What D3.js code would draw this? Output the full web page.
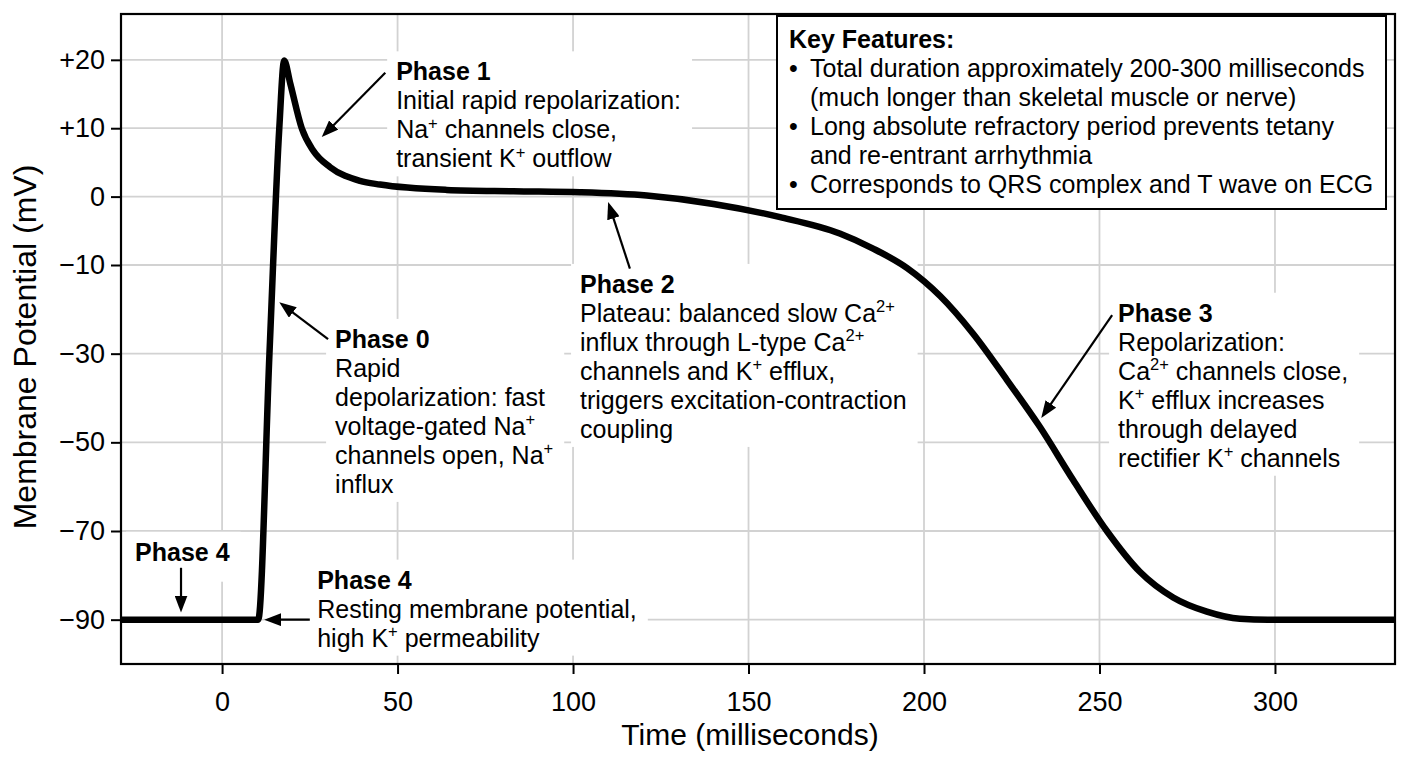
<!DOCTYPE html>
<html>
<head>
<meta charset="utf-8">
<script src="https://cdn.jsdelivr.net/npm/d3@7"></script>
<style>
  html, body { margin: 0; padding: 0; background: #fff; }
  svg { display: block; font-family: "Liberation Sans", Arial, Helvetica, sans-serif; }
</style>
</head>
<body>
<div id="chart"></div>
<script>
// Cardiac ventricular action potential
const timeMs = [-30, 10.3, 13.5, 16.3, 17.7, 19.4, 22.7, 26, 30.8, 39.3, 45, 64, 83, 102,
  121, 140, 159, 176, 185.5, 195.2, 204.6, 214, 223.6, 233, 242.5, 252.1, 261.5, 271,
  280.6, 290, 298, 340];
const voltageMv = [-90, -90, -30, 10, 19.9, 16.6, 10, 6.7, 4.3, 2.3, 1.76, 0.98, 0.78, 0.63,
  0.15, -1.07, -3.0, -5.4, -7.6, -10.7, -17.0, -25.5, -35.9, -46.5, -58.5, -70, -79.2, -85.0,
  -88.2, -89.8, -90, -90];

const xTicks = [0, 50, 100, 150, 200, 250, 300];
const yTicks = [20, 10, 0, -10, -30, -50, -70, -90];

const xTitle = "Time (milliseconds)";
const yTitle = "Membrane Potential (mV)";

const keyTitle = "Key Features:";
const keyBullets = [
  ["Total duration approximately 200-300 milliseconds", "(much longer than skeletal muscle or nerve)"],
  ["Long absolute refractory period prevents tetany", "and re-entrant arrhythmia"],
  ["Corresponds to QRS complex and T wave on ECG"]
];

// annotation text; ^{..} marks a superscript
const phase0Lines = ["Phase 0", "Rapid", "depolarization: fast", "voltage-gated Na^{+}", "channels open, Na^{+}", "influx"];
const phase1Lines = ["Phase 1", "Initial rapid repolarization:", "Na^{+} channels close,", "transient K^{+} outflow"];
const phase2Lines = ["Phase 2", "Plateau: balanced slow Ca^{2+}", "influx through L-type Ca^{2+}", "channels and K^{+} efflux,", "triggers excitation-contraction", "coupling"];
const phase3Lines = ["Phase 3", "Repolarization:", "Ca^{2+} channels close,", "K^{+} efflux increases", "through delayed", "rectifier K^{+} channels"];
const phase4aLines = ["Phase 4"];
const phase4bLines = ["Phase 4", "Resting membrane potential,", "high K^{+} permeability"];

// anchors in data units [ms, mV]: text start, arrow tail, arrow tip
const annotations = [
  { lines: phase0Lines, at: [32.2, -28.7], from: [30.2, -26.7], to: [16.3, -18.4] },
  { lines: phase1Lines, at: [49.6, 17.0], from: [46.5, 18.1], to: [28.4, 8.7] },
  { lines: phase2Lines, at: [102, -16.3], from: [116.2, -10.8], to: [110, -0.8] },
  { lines: phase3Lines, at: [255.3, -22.8], from: [253.6, -21.3], to: [233.4, -44.5] },
  { lines: phase4aLines, at: [-24.8, -76.7], from: [-11.7, -78.3], to: [-11.7, -88.4], padBottom: 12 },
  { lines: phase4bLines, at: [27.1, -83.0], from: [25.0, -90], to: [12.0, -90] }
];

const W = 1408, H = 768;
const plot = { left: 121, right: 1395, top: 14, bottom: 664 };
const fontAnn = 25, lineH = 29;

const svg = d3.select("#chart").append("svg")
  .attr("width", W).attr("height", H);

svg.append("rect").attr("width", W).attr("height", H).attr("fill", "#fff");

const x = d3.scaleLinear().domain([-28.8, 334.2]).range([plot.left, plot.right]);
// the picture uses a tighter mV scale below -10 than above it
const y = d3.scaleLinear().domain([-100, -10, 26.7]).range([plot.bottom, 265, plot.top]);

const defs = svg.append("defs");
defs.append("clipPath").attr("id", "plot-clip")
  .append("rect")
  .attr("x", plot.left).attr("y", plot.top)
  .attr("width", plot.right - plot.left).attr("height", plot.bottom - plot.top);

defs.append("marker")
  .attr("id", "arrowhead")
  .attr("viewBox", "0 -6.5 17 13")
  .attr("refX", 9).attr("refY", 0)
  .attr("markerWidth", 17).attr("markerHeight", 13)
  .attr("markerUnits", "userSpaceOnUse")
  .attr("orient", "auto")
  .append("path").attr("d", "M0,-6.5L17,0L0,6.5Z").attr("fill", "#000");

// grid
const grid = svg.append("g").attr("class", "grid")
  .attr("stroke", "#d2d2d2").attr("stroke-width", 1.8);
grid.selectAll("line.v").data(xTicks).join("line").attr("class", "v")
  .attr("x1", d => x(d)).attr("x2", d => x(d))
  .attr("y1", plot.top).attr("y2", plot.bottom);
grid.selectAll("line.h").data(yTicks).join("line").attr("class", "h")
  .attr("x1", plot.left).attr("x2", plot.right)
  .attr("y1", d => y(d)).attr("y2", d => y(d));

// axes
const fmtMv = v => v > 0 ? "+" + v : v < 0 ? "\u2212" + Math.abs(v) : "0";

const xAxis = svg.append("g")
  .attr("transform", `translate(0,${plot.bottom})`)
  .call(d3.axisBottom(x).tickValues(xTicks).tickSize(10).tickPadding(18).tickFormat(d3.format("d")));
const yAxis = svg.append("g")
  .attr("transform", `translate(${plot.left},0)`)
  .call(d3.axisLeft(y).tickValues(yTicks).tickSize(10).tickPadding(6).tickFormat(fmtMv));

for (const ax of [xAxis, yAxis]) {
  ax.select(".domain").remove();
  ax.selectAll(".tick line").attr("stroke", "#000").attr("stroke-width", 2);
  ax.selectAll(".tick text").attr("fill", "#000").attr("font-size", 27)
    .attr("font-family", "Liberation Sans, Arial, sans-serif");
}

svg.append("text")
  .attr("x", (plot.left + plot.right) / 2 - 8).attr("y", 745)
  .attr("text-anchor", "middle").attr("font-size", 30).attr("fill", "#000")
  .text(xTitle);

svg.append("text")
  .attr("transform", `translate(36,${(plot.top + plot.bottom) / 2 + 8}) rotate(-90)`)
  .attr("text-anchor", "middle").attr("font-size", 32).attr("fill", "#000")
  .text(yTitle);

// write a line with ^{..} superscripts
function richLine(sel, str, size) {
  const parts = str.split(/(\^\{[^}]*\})/);
  let raised = false;
  const shift = size * 0.38;
  for (const p of parts) {
    if (!p) continue;
    if (p.startsWith("^{")) {
      sel.append("tspan").attr("dy", -shift).attr("font-size", size * 0.66).text(p.slice(2, -1));
      raised = true;
    } else {
      sel.append("tspan").attr("dy", raised ? shift : 0).text(p);
      raised = false;
    }
  }
}

// annotation blocks with white backing that hides the grid
const annLayer = svg.append("g").attr("class", "annotations");
for (const a of annotations) {
  const g = annLayer.append("g");
  const bg = g.append("rect").attr("fill", "#fff");
  const tx = x(a.at[0]), ty = y(a.at[1]);
  a.lines.forEach((ln, i) => {
    const t = g.append("text")
      .attr("x", tx).attr("y", ty + i * lineH)
      .attr("font-size", fontAnn).attr("fill", "#000")
      .attr("font-weight", i === 0 ? "bold" : "normal");
    richLine(t, ln, fontAnn);
  });
  const bb = g.node().getBBox();
  bg.attr("x", bb.x - 9).attr("y", bb.y - 6)
    .attr("width", bb.width + 20)
    .attr("height", bb.height + 10 + (a.padBottom || 0));
}

// action potential trace
const line = d3.line()
  .x((d, i) => x(timeMs[i]))
  .y(d => y(d))
  .curve(d3.curveMonotoneX);

svg.append("path")
  .datum(voltageMv)
  .attr("clip-path", "url(#plot-clip)")
  .attr("fill", "none")
  .attr("stroke", "#000")
  .attr("stroke-width", 6.5)
  .attr("stroke-linejoin", "round")
  .attr("d", line);

// arrows
const arrowLayer = svg.append("g").attr("class", "arrows");
for (const a of annotations) {
  const x1 = x(a.from[0]), y1 = y(a.from[1]);
  const x2 = x(a.to[0]), y2 = y(a.to[1]);
  const len = Math.hypot(x2 - x1, y2 - y1);
  const k = (len - 8) / len;
  arrowLayer.append("line")
    .attr("x1", x1).attr("y1", y1)
    .attr("x2", x1 + (x2 - x1) * k).attr("y2", y1 + (y2 - y1) * k)
    .attr("stroke", "#000").attr("stroke-width", 2.2)
    .attr("marker-end", "url(#arrowhead)");
}

// key features box
const kb = { w: 609, h: 193 };
const kbX = plot.right - 9 - kb.w, kbY = plot.top + 2;
const key = svg.append("g").attr("transform", `translate(${kbX},${kbY})`);
key.append("rect")
  .attr("width", kb.w).attr("height", kb.h)
  .attr("fill", "#fff").attr("stroke", "#000").attr("stroke-width", 2);
key.append("text")
  .attr("x", 12).attr("y", 32)
  .attr("font-size", fontAnn).attr("font-weight", "bold").attr("fill", "#000")
  .text(keyTitle);
let row = 1;
for (const b of keyBullets) {
  b.forEach((ln, j) => {
    const yy = 32 + row * lineH;
    if (j === 0) {
      key.append("text").attr("x", 12).attr("y", yy)
        .attr("font-size", fontAnn).attr("fill", "#000").text("\u2022");
    }
    key.append("text").attr("x", 33).attr("y", yy)
      .attr("font-size", fontAnn).attr("fill", "#000").text(ln);
    row++;
  });
}

// frame
svg.append("rect")
  .attr("x", plot.left).attr("y", plot.top)
  .attr("width", plot.right - plot.left).attr("height", plot.bottom - plot.top)
  .attr("fill", "none").attr("stroke", "#000").attr("stroke-width", 2.2);
</script>
</body>
</html>
